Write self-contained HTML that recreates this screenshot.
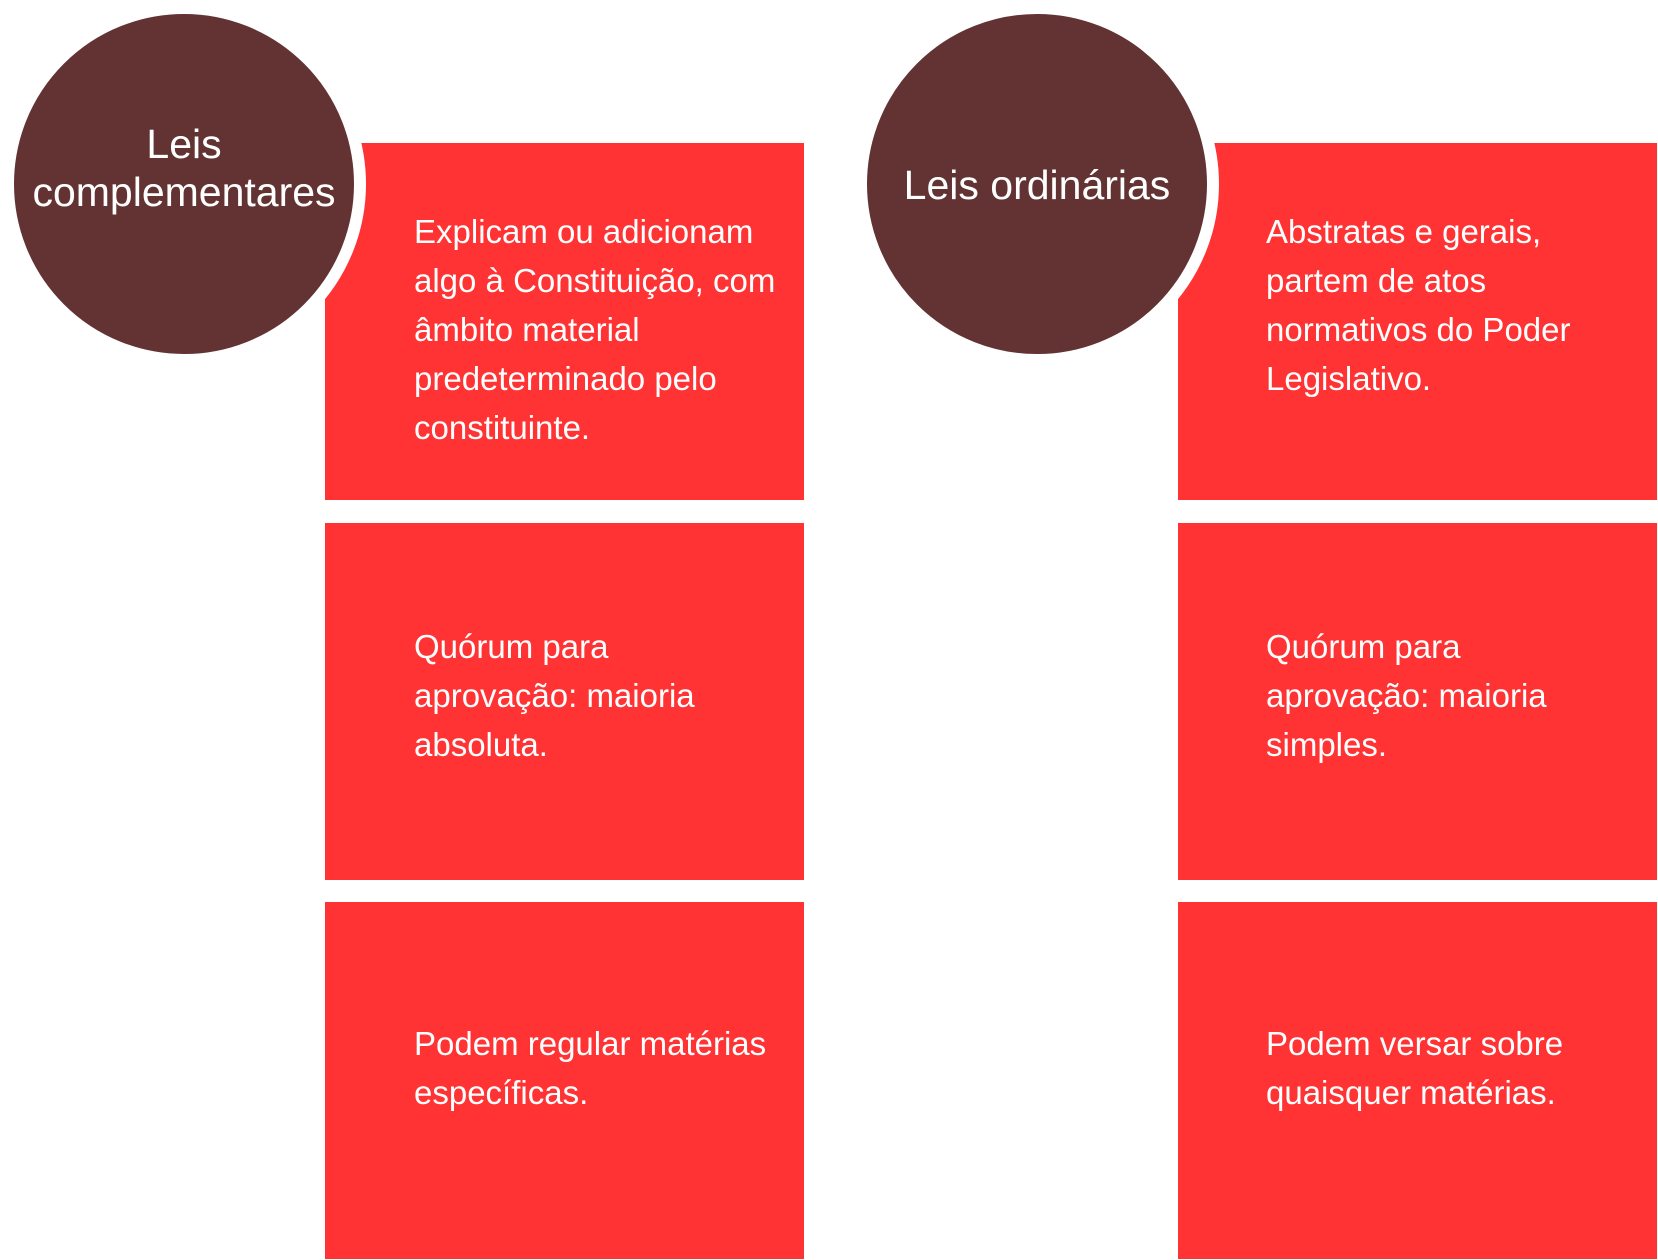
<!DOCTYPE html>
<html><head><meta charset="utf-8"><style>
body{margin:0;width:1658px;height:1260px;background:#fff;position:relative;overflow:hidden;font-family:"Liberation Sans",sans-serif;}
.box{position:absolute;background:#FF3334;width:479px;height:357px;}
.circ{position:absolute;width:340px;height:340px;border-radius:50%;background:#633333;border:12px solid #fff;color:#fff;font-size:41px;line-height:48px;text-align:center;}
.t{position:absolute;color:#fff;font-size:33px;line-height:49px;white-space:nowrap;}
</style></head><body>
<div class="box" style="left:325px;top:143px"></div>
<div class="box" style="left:325px;top:523px"></div>
<div class="box" style="left:325px;top:902px"></div>
<div class="box" style="left:1178px;top:143px"></div>
<div class="box" style="left:1178px;top:523px"></div>
<div class="box" style="left:1178px;top:902px"></div>
<div class="circ" style="left:2px;top:2px"><div style="position:absolute;left:0;right:0;top:106px">Leis<br>complementares</div></div>
<div class="circ" style="left:855px;top:2px"><div style="position:absolute;left:0;right:0;top:147px">Leis ordinárias</div></div>
<div class="t" style="left:414px;top:207px">Explicam ou adicionam<br>algo à Constituição, com<br>âmbito material<br>predeterminado pelo<br>constituinte.</div>
<div class="t" style="left:414px;top:622px">Quórum para<br>aprovação: maioria<br>absoluta.</div>
<div class="t" style="left:414px;top:1019px">Podem regular matérias<br>específicas.</div>
<div class="t" style="left:1266px;top:207px">Abstratas e gerais,<br>partem de atos<br>normativos do Poder<br>Legislativo.</div>
<div class="t" style="left:1266px;top:622px">Quórum para<br>aprovação: maioria<br>simples.</div>
<div class="t" style="left:1266px;top:1019px">Podem versar sobre<br>quaisquer matérias.</div>
</body></html>
